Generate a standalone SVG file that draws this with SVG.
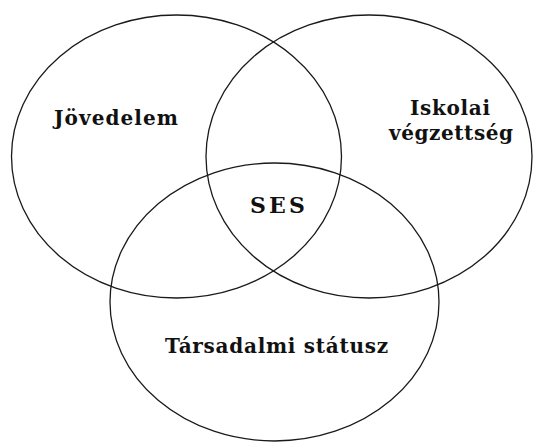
<svg xmlns="http://www.w3.org/2000/svg" width="533" height="443" viewBox="0 0 533 443">
<style>
.c{fill:none;stroke:#1a1a1a;stroke-width:1.3}
.t{font-family:"DejaVu Serif","Liberation Serif",serif;font-size:20px;font-weight:bold;fill:#111}
.s{font-size:22px}
</style>
<rect width="533" height="443" fill="#fff"/>
<g id="connectors"></g>
<g id="jovedelem">
<ellipse class="c" cx="176.5" cy="156.5" rx="165" ry="141.5"/>
<text class="t" x="54" y="125" textLength="124" lengthAdjust="spacing">Jövedelem</text>
</g>
<g id="iskolai">
<ellipse class="c" cx="369" cy="156.5" rx="163" ry="141.5"/>
<text class="t" x="410" y="115" textLength="80" lengthAdjust="spacing">Iskolai</text>
<text class="t" x="389" y="140" textLength="124" lengthAdjust="spacing">végzettség</text>
</g>
<g id="tarsadalmi">
<ellipse class="c" cx="274.5" cy="302" rx="164.5" ry="139"/>
<text class="t" x="165" y="353" textLength="223" lengthAdjust="spacing">Társadalmi státusz</text>
</g>
<g id="ses">
<text class="t s" x="250" y="213" textLength="55" lengthAdjust="spacing">SES</text>
</g>
</svg>
